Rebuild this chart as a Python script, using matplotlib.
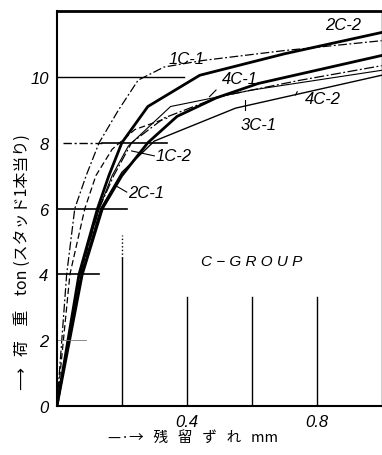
import matplotlib
matplotlib.use("Agg")
import matplotlib.pyplot as plt

plt.rcParams['font.family'] = ['Liberation Sans', 'Noto Sans CJK JP', 'DejaVu Sans']

# ---- data ----
c1_1_x = [0, 0.03, 0.055, 0.09, 0.13, 0.19, 0.25, 0.33, 0.45, 0.7, 1.0]
c1_1_y = [0, 4, 6, 7, 8, 9, 9.9, 10.3, 10.5, 10.8, 11.1]
c1_2_x = [0, 0.04, 0.086, 0.12, 0.17, 0.24, 0.34]
c1_2_y = [0, 4, 6, 7, 7.8, 8.4, 8.75]
c2_2_x = [0, 0.068, 0.125, 0.16, 0.2, 0.28, 0.44, 0.7, 1.0]
c2_2_y = [0, 4, 6, 7, 8, 9.1, 10.05, 10.7, 11.35]
c2_1_x = [0, 0.078, 0.14, 0.2, 0.28, 0.37, 0.49, 0.62, 1.0]
c2_1_y = [0, 4, 6, 7, 8, 8.8, 9.36, 9.8, 10.65]
c3_1_x = [0, 0.075, 0.135, 0.2, 0.3, 0.55, 1.0]
c3_1_y = [0, 4, 6, 7.1, 8.05, 9.05, 10.05]
c4_1_x = [0, 0.07, 0.13, 0.17, 0.22, 0.35, 0.6, 1.0]
c4_1_y = [0, 4, 6, 7, 7.9, 9.1, 9.6, 10.2]
c4_2_x = [0, 0.072, 0.13, 0.175, 0.23, 0.33, 0.5, 0.75, 1.0]
c4_2_y = [0, 4, 6, 7, 8, 8.75, 9.4, 9.9, 10.34]

yticks = [0, 2, 4, 6, 8, 10]
xticks = [0.4, 0.8]

fig = plt.figure(figsize=(3.82, 4.56), dpi=100)
ax = fig.add_axes([0.149, 0.1075, 0.85, 0.866])
ax.set_xlim(0, 1.0)
ax.set_ylim(0, 12)

k = 'black'
ax.plot(c1_1_x, c1_1_y, color=k, lw=0.9, ls=(0, (7, 2, 1.5, 2)))
ax.plot(c1_2_x, c1_2_y, color=k, lw=0.9, ls=(0, (5, 2.5)))
ax.plot(c2_2_x, c2_2_y, color=k, lw=2.0)
ax.plot(c2_1_x, c2_1_y, color=k, lw=2.0)
ax.plot(c3_1_x, c3_1_y, color=k, lw=1.0)
ax.plot(c4_1_x, c4_1_y, color=k, lw=0.8)
ax.plot(c4_2_x, c4_2_y, color=k, lw=0.9, ls=(0, (8, 2, 1.5, 2)))

# partial grid lines
ax.plot([0, 0.39], [10, 10], color=k, lw=1.0)
ax.plot([0.02, 0.14], [8, 8], color=k, lw=1.0, ls=(0, (6, 2, 1.5, 2)))
ax.plot([0.14, 0.34], [8, 8], color=k, lw=1.2)
ax.plot([0, 0.215], [6, 6], color=k, lw=1.2)
ax.plot([0, 0.13], [4, 4], color=k, lw=1.2)
ax.plot([0, 0.09], [2, 2], color='#777777', lw=0.6)
ax.plot([0.2, 0.2], [0, 4.5], color=k, lw=1.0)
ax.plot([0.2, 0.2], [4.5, 5.2], color=k, lw=1.0, ls=':')
for xv in [0.4, 0.6, 0.8]:
    ax.plot([xv, xv], [0, 3.3], color=k, lw=1.0)

# curve labels
lab = dict(fontsize=12, color=k, ha='center', va='center', style='italic')
ax.text(0.88, 11.6, '2C-2', **lab)
ax.text(0.40, 10.55, '1C-1', **lab)
ax.text(0.565, 9.95, '4C-1', **lab)
ax.text(0.82, 9.35, '4C-2', **lab)
ax.text(0.62, 8.55, '3C-1', **lab)
ax.text(0.36, 7.6, '1C-2', **lab)
ax.text(0.275, 6.5, '2C-1', **lab)
# pointers
ax.plot([0.30, 0.23], [7.6, 7.75], color=k, lw=0.8)
ax.plot([0.215, 0.18], [6.5, 6.7], color=k, lw=0.8)
ax.plot([0.47, 0.49], [9.4, 9.6], color=k, lw=0.8)
ax.plot([0.735, 0.74], [9.45, 9.55], color=k, lw=0.8)
ax.plot([0.58, 0.58], [9.0, 9.3], color=k, lw=0.8)

ax.text(0.6, 4.4, 'C − G R O U P', fontsize=11, style='italic', ha='center', va='center')

ax.set_yticks(yticks)
ax.set_yticklabels([str(v) for v in yticks], fontsize=12, style='italic')
ax.set_xticks(xticks)
ax.set_xticklabels([str(v) for v in xticks], fontsize=12, style='italic')
ax.tick_params(length=0, pad=6)

for s in ['left', 'bottom']:
    ax.spines[s].set_linewidth(1.5)
ax.spines['top'].set_linewidth(2.0)
ax.spines['right'].set_linewidth(1.0)

fig.text(22/382, 1 - 262/456, '⟶   荷    重    ton (スタッド1本当り)', rotation=90,
         ha='center', va='center', fontsize=11.5,
         family=['Noto Sans CJK JP', 'DejaVu Sans'])
fig.text(193/382, 1 - 438/456, '—·→   残   留   ず   れ   mm', ha='center', va='center',
         fontsize=10.5, family=['Noto Sans CJK JP', 'DejaVu Sans'])

fig.savefig('out.png', dpi=100)
